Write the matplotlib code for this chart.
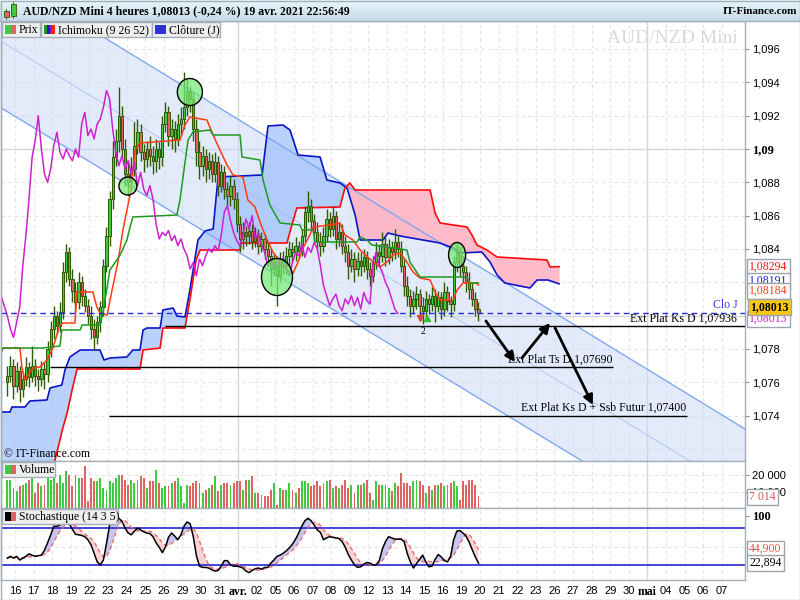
import matplotlib
matplotlib.use('Agg')
import matplotlib.pyplot as plt
from matplotlib.patches import Ellipse, Rectangle
import numpy as np
import pandas as pd

plt.rcParams['font.family'] = 'Liberation Sans'
SERIF = 'Liberation Serif'

# =============================================================================
# DONNÉES — AUD/NZD Mini, bougies 4 heures
# =============================================================================
premiere_ouverture = 1.0760
clotures = [
    1.0764, 1.0770, 1.0758, 1.0767, 1.0756, 1.0762,
    1.0769, 1.0763, 1.0770, 1.0764, 1.0762, 1.0768,
    1.0765, 1.0780, 1.0792, 1.0800, 1.0794, 1.0802,
    1.0826, 1.0838, 1.0822, 1.0815, 1.0808, 1.0820,
    1.0812, 1.0806, 1.0800, 1.0792, 1.0787, 1.0796,
    1.0805, 1.0830, 1.0848, 1.0870, 1.0895, 1.0905,
    1.0920, 1.0900, 1.0885, 1.0880, 1.0888, 1.0902,
    1.0910, 1.0898, 1.0894, 1.0900, 1.0896, 1.0893,
    1.0900, 1.0895, 1.0915, 1.0922, 1.0908, 1.0912,
    1.0906, 1.0915, 1.0918, 1.0925, 1.0935, 1.0930,
    1.0912, 1.0898, 1.0890, 1.0896, 1.0888, 1.0893,
    1.0885, 1.0892, 1.0878, 1.0886, 1.0876, 1.0872,
    1.0878, 1.0870, 1.0855, 1.0846, 1.0850, 1.0848,
    1.0851, 1.0845, 1.0848, 1.0842, 1.0846, 1.0840,
    1.0836, 1.0828, 1.0832, 1.0824, 1.0834, 1.0830,
    1.0836, 1.0840, 1.0838, 1.0842, 1.0839, 1.0848,
    1.0862, 1.0866, 1.0857, 1.0850, 1.0845, 1.0842,
    1.0848, 1.0858, 1.0852, 1.0860, 1.0846, 1.0850,
    1.0842, 1.0838, 1.0830, 1.0834, 1.0828, 1.0833,
    1.0830, 1.0835, 1.0828, 1.0824, 1.0832, 1.0838,
    1.0836, 1.0843, 1.0835, 1.0841, 1.0838, 1.0844,
    1.0840, 1.0830, 1.0818, 1.0812, 1.0806, 1.0810,
    1.0813, 1.0806, 1.0803, 1.0810, 1.0807, 1.0812,
    1.0806, 1.0811, 1.0804, 1.0814, 1.0809, 1.0807,
    1.0832, 1.0838, 1.0830, 1.0826, 1.0820, 1.0816,
    1.0810, 1.0804, 1.08013,
]
plus_hauts = [
    1.0770, 1.0776, 1.0774, 1.0772, 1.0770, 1.0766,
    1.0775, 1.0772, 1.0782, 1.0774, 1.0768, 1.0773,
    1.0772, 1.0785, 1.0797, 1.0806, 1.0803, 1.0808,
    1.0832, 1.0843, 1.0841, 1.0828, 1.0820, 1.0826,
    1.0824, 1.0816, 1.0810, 1.0806, 1.0798, 1.0800,
    1.0809, 1.0834, 1.0853, 1.0875, 1.0905, 1.0912,
    1.0937, 1.0926, 1.0906, 1.0893, 1.0895, 1.0916,
    1.0918, 1.0915, 1.0903, 1.0905, 1.0908, 1.0902,
    1.0906, 1.0904, 1.0920, 1.0928, 1.0926, 1.0918,
    1.0917, 1.0921, 1.0925, 1.0946, 1.0942, 1.0938,
    1.0934, 1.0918, 1.0905, 1.0902, 1.0900, 1.0898,
    1.0897, 1.0898, 1.0896, 1.0891, 1.0890, 1.0880,
    1.0884, 1.0882, 1.0874, 1.0860, 1.0856, 1.0854,
    1.0856, 1.0855, 1.0853, 1.0852, 1.0850, 1.0849,
    1.0845, 1.0840, 1.0837, 1.0836, 1.0838, 1.0839,
    1.0841, 1.0845, 1.0844, 1.0847, 1.0845, 1.0852,
    1.0866, 1.0875, 1.0870, 1.0861, 1.0856, 1.0850,
    1.0853, 1.0864, 1.0862, 1.0866, 1.0863, 1.0856,
    1.0855, 1.0848, 1.0843, 1.0840, 1.0838, 1.0838,
    1.0838, 1.0840, 1.0839, 1.0832, 1.0836, 1.0844,
    1.0843, 1.0850, 1.0848, 1.0846, 1.0845, 1.0852,
    1.0848, 1.0845, 1.0834, 1.0824, 1.0816, 1.0815,
    1.0818, 1.0816, 1.0811, 1.0815, 1.0813, 1.0817,
    1.0816, 1.0815, 1.0814, 1.0820, 1.0818, 1.0812,
    1.0836, 1.0843, 1.0841, 1.0836, 1.0830, 1.0826,
    1.0820, 1.0814, 1.0808,
]
plus_bas = [
    1.0752, 1.0760, 1.0750, 1.0754, 1.0748, 1.0751,
    1.0758, 1.0757, 1.0760, 1.0758, 1.0755, 1.0758,
    1.0756, 1.0760, 1.0775, 1.0786, 1.0789, 1.0790,
    1.0798, 1.0820, 1.0818, 1.0808, 1.0802, 1.0804,
    1.0806, 1.0802, 1.0795, 1.0786, 1.0780, 1.0783,
    1.0790, 1.0800, 1.0826, 1.0842, 1.0864, 1.0890,
    1.0898, 1.0895, 1.0878, 1.0872, 1.0876, 1.0884,
    1.0897, 1.0893, 1.0886, 1.0889, 1.0890, 1.0885,
    1.0886, 1.0888, 1.0890, 1.0910, 1.0902, 1.0900,
    1.0898, 1.0902, 1.0908, 1.0912, 1.0920, 1.0922,
    1.0905, 1.0890, 1.0882, 1.0884, 1.0880, 1.0882,
    1.0880, 1.0880, 1.0872, 1.0874, 1.0870, 1.0866,
    1.0866, 1.0864, 1.0850, 1.0838, 1.0840, 1.0842,
    1.0843, 1.0840, 1.0841, 1.0837, 1.0838, 1.0834,
    1.0830, 1.0818, 1.0824, 1.0806, 1.0820, 1.0825,
    1.0825, 1.0830, 1.0832, 1.0833, 1.0834, 1.0836,
    1.0844, 1.0856, 1.0852, 1.0845, 1.0840, 1.0836,
    1.0838, 1.0844, 1.0847, 1.0848, 1.0840, 1.0842,
    1.0837, 1.0832, 1.0822, 1.0826, 1.0820, 1.0824,
    1.0824, 1.0826, 1.0822, 1.0818, 1.0820, 1.0828,
    1.0830, 1.0832, 1.0830, 1.0831, 1.0833, 1.0834,
    1.0835, 1.0826, 1.0812, 1.0806, 1.0799, 1.0801,
    1.0804, 1.0800, 1.0795, 1.0798, 1.0801, 1.0803,
    1.0796, 1.0802, 1.0798, 1.0800, 1.0803, 1.0799,
    1.0803, 1.0826, 1.0824, 1.0820, 1.0814, 1.0810,
    1.0806, 1.0800, 1.0797,
]
volumes = [
    17200, 17200, 12100, 10100, 13100, 14100, 15200, 17200, 20200, 9100,
    15200, 13100, 14100, 18200, 17200, 19200, 15200, 20200, 15200, 22200,
    20200, 13100, 20200, 18200, 18200, 25300, 4000, 18200, 16200, 16200,
    18200, 12100, 11100, 16200, 15200, 18200, 20200, 20200, 17200, 14100,
    17200, 15200, 17200, 19200, 18200, 12100, 16200, 16200, 23200, 15200,
    12100, 13100, 13100, 15200, 16200, 18200, 13100, 3000, 14100, 13100,
    15200, 16200, 15200, 9100, 11100, 12100, 14100, 19200, 10100, 14100,
    15200, 15200, 14100, 15200, 16200, 16200, 11100, 17200, 17200, 19200,
    9100, 9100, 8100, 7100, 7100, 11100, 15200, 2000, 12100, 11100,
    11100, 15200, 11100, 9100, 12100, 16200, 16200, 15200, 13100, 14100,
    16200, 13100, 15200, 16200, 17200, 12100, 13100, 12100, 14100, 17200,
    12100, 14100, 9100, 14100, 14100, 15200, 17200, 9100, 5100, 16200,
    14100, 14100, 14100, 12100, 10100, 15200, 13100, 21200, 15200, 15200,
    13100, 16200, 17200, 16200, 14100, 9100, 13100, 11100, 14100, 14100,
    15200, 13100, 14100, 15200, 16200, 13100, 5100, 16200, 14100, 17200,
    17200, 14100, 7014,
]
stoch_k = [
    31, 34, 31, 34, 28, 31, 34, 38, 36, 34,
    35, 36, 44, 56, 69, 83, 83, 85, 88, 94,
    87, 78, 70, 69, 68, 66, 61, 53, 39, 25,
    20, 28, 55, 85, 95, 98, 96, 91, 80, 72,
    69, 75, 80, 77, 74, 72, 71, 66, 56, 49,
    40, 49, 65, 72, 67, 61, 69, 83, 90, 87,
    66, 35, 18, 16, 16, 15, 12, 10, 11, 18,
    27, 27, 20, 18, 18, 17, 15, 10, 7.5, 11,
    14, 15, 13, 16, 16, 23, 28, 34, 36, 39,
    43, 48, 54, 62, 72, 83, 92, 96, 92, 85,
    77, 73, 61, 64, 66, 65, 64, 63, 58, 49,
    37, 28, 20, 16, 17, 21, 24, 23, 20, 20,
    27, 46, 58, 66, 64, 62, 62, 62, 58, 39,
    25, 15, 22, 29, 36, 25, 17, 18, 29, 37,
    33, 27, 25, 34, 61, 75, 76, 72, 67, 57,
    44.605, 33, 22.894,
]

# Ichimoku (9 26 52) : points relevés (indice de bougie, prix)
tenkan_x = [-2.35, 4.1, 4.7, 5.7, 7.3, 8.3, 10.5, 12.8, 14.7, 17.0, 18.0, 21.8,
            22.5, 27.6, 28.9, 29.9, 32.2, 33.8, 35.7, 37.3, 38.6, 39.9, 41.2,
            42.8, 55.7, 57.3, 58.9, 64.4, 66.4, 68.6, 70.9, 72.8, 76.0, 77.6,
            79.9, 81.5, 83.8, 85.7, 88.0, 90.2, 92.2, 93.8, 95.4, 97.6, 98.6,
            104.1, 107.3, 108.9, 111.5, 113.8, 118.0, 120.2, 122.5, 124.4,
            126.7, 128.9, 130.9, 133.1, 136.4, 138.0, 139.6, 143.8, 145.1,
            147.0, 151.2, 152.0]
tenkan_y = [1.07806, 1.07806, 1.07692, 1.07614, 1.07662, 1.07686, 1.07692,
            1.07734, 1.07806, 1.07944, 1.07956, 1.07956, 1.08142, 1.08142,
            1.08052, 1.08016, 1.08004, 1.08154, 1.08322, 1.08514, 1.08634,
            1.08754, 1.08994, 1.09036, 1.09054, 1.09144, 1.09192, 1.09174,
            1.09084, 1.08994, 1.08904, 1.08844, 1.08832, 1.08694, 1.08652,
            1.08562, 1.08454, 1.08382, 1.08322, 1.08274, 1.08256, 1.08322,
            1.08406, 1.08484, 1.08532, 1.08544, 1.08556, 1.08484, 1.08454,
            1.08394, 1.08322, 1.08292, 1.08322, 1.08364, 1.08376, 1.08322,
            1.08262, 1.08226, 1.08214, 1.08142, 1.08094, 1.08094, 1.08154,
            1.08196, 1.08196, 1.08184]
kijun_x = [-2.35, -1.4, 11.5, 17.0, 17.6, 23.5, 24.1, 29.9, 30.9, 33.1, 36.4,
           38.6, 39.6, 40.5, 54.7, 55.7, 57.3, 58.3, 59.9, 65.4, 66.4, 75.1,
           75.7, 81.5, 82.5, 84.7, 88.0, 94.4, 95.1, 98.6, 99.3, 112.8, 113.8,
           116.0, 117.6, 122.5, 128.9, 129.9, 133.1, 148.3, 149.2, 152.0]
kijun_y = [1.07752, 1.07806, 1.07806, 1.07818, 1.07914, 1.07914, 1.07944,
           1.07944, 1.08022, 1.08274, 1.08364, 1.08454, 1.08532, 1.08592,
           1.08604, 1.08694, 1.08916, 1.09054, 1.09102, 1.09114, 1.09084,
           1.09084, 1.08952, 1.08934, 1.08814, 1.08664, 1.08556, 1.08544,
           1.08514, 1.08514, 1.08442, 1.08442, 1.08472, 1.08454, 1.08424,
           1.08412, 1.08394, 1.08322, 1.08232, 1.08232, 1.08196, 1.08196]
ssa_x = [-2.4, 12.2, 15.4, 18.0, 19.3, 20.9, 22.5, 42.8, 43.8, 49.3, 50.2,
         57.3, 58.9, 60.9, 62.2, 75.1, 75.4, 90.2, 91.8, 93.4, 107.3, 108.9,
         110.5, 112.2, 136.4, 138.0, 139.6, 148.3, 149.9, 151.5, 154.7,
         158.0, 174.1, 175.1, 178.0]
ssa_y = [1.06954, 1.07002, 1.07134, 1.07332, 1.07416, 1.07554, 1.07680,
         1.07680, 1.07794, 1.07806, 1.07926, 1.07926, 1.08094, 1.08334,
         1.08394, 1.08394, 1.08436, 1.08436, 1.08544, 1.08646, 1.08652,
         1.08766, 1.08796, 1.08754, 1.08754, 1.08616, 1.08556, 1.08532,
         1.08484, 1.08424, 1.08394, 1.08352, 1.08334, 1.08292, 1.08294]
ssb_x = [-2.4, 0.9, 1.5, 5.7, 7.3, 12.8, 13.8, 17.6, 18.6, 20.2, 23.5, 29.9,
         31.2, 33.1, 38.6, 40.5, 42.8, 43.8, 45.1, 49.3, 50.2, 53.5, 54.7,
         57.3, 58.9, 61.5, 63.8, 66.4, 68.0, 82.2, 84.1, 88.9, 91.2, 93.8,
         100.9, 103.1, 107.3, 109.6, 112.2, 113.8, 121.2, 122.8, 126.7,
         139.6, 143.8, 146.0, 153.1, 155.7, 158.0, 160.5, 168.6, 170.9,
         174.4, 178.0]
ssb_y = [1.07422, 1.07422, 1.07452, 1.07452, 1.07488, 1.07494, 1.07566,
         1.07584, 1.07674, 1.07752, 1.07794, 1.07794, 1.07734, 1.07746,
         1.07752, 1.07794, 1.07794, 1.07914, 1.07926, 1.07926, 1.08034,
         1.08046, 1.07998, 1.07992, 1.08154, 1.08454, 1.08508, 1.08520,
         1.08832, 1.08844, 1.09138, 1.09144, 1.09114, 1.08964, 1.08952,
         1.08814, 1.08796, 1.08766, 1.08604, 1.08454, 1.08454, 1.08496,
         1.08478, 1.08436, 1.08406, 1.08376, 1.08382, 1.08322, 1.08244,
         1.08196, 1.08166, 1.08214, 1.08214, 1.08191]
decalage_chikou = 26

# canal baissier (bornes aux extrémités)
canal_x = [-3.0, 238.5]
canal_haut = [1.10058, 1.07314]
canal_bas = [1.09258, 1.06528]

# niveaux horizontaux (prix, début, fin, texte)
niveaux = [
    (1.07936, 50.9, 238.5, 'Ext Plat Ks D 1,07936'),
    (1.07690, 13.8, 195.4, 'Ext Plat Ts D 1,07690'),
    (1.07400, 32.8, 219.3, 'Ext Plat Ks D + Ssb Futur 1,07400'),
]
fleches = [((154.4, 1.07968), (163.8, 1.07722)),
           ((166.0, 1.07746), (175.1, 1.07956)),
           ((176.7, 1.07926), (188.9, 1.07464))]
# cercles (centre x, centre y, largeur, hauteur)
cercles = [(58.9, 1.09342, 8.1, 0.00162), (38.9, 1.08778, 5.8, 0.00108),
           (87.0, 1.08232, 10.0, 0.00222), (145.1, 1.08364, 5.5, 0.00150)]

jours = ['16', '17', '18', '19', '22', '23', '24', '25', '26', '29', '30', '31',
         'avr.', '02', '05', '06', '07', '08', '09', '12', '13', '14', '15',
         '16', '19', '20', '21', '22', '23', '26', '27', '28', '29', '30',
         'mai', '04', '05', '06', '07']
BOUGIES_PAR_JOUR = 6

# =============================================================================
W, H = 800, 600
XLIM = (-2.03, 237.97)
VERT, ROUGE, CONTOUR = '#3FCB3F', '#E06262', '#2E5A00'
GRIS = '#A4AEB8'


def rect(l, t, r, b):
    return [l / W, 1 - b / H, (r - l) / W, (b - t) / H]


def fmt(v, d=5):
    return f'{v:.{d}f}'.replace('.', ',')


x = np.arange(len(clotures))
c = np.array(clotures)
o = np.array([premiere_ouverture] + clotures[:-1])
hausse = c >= o
couleurs = np.where(hausse, VERT, ROUGE)
xt = np.arange(len(jours)) * BOUGIES_PAR_JOUR + 2.5

fig = plt.figure(figsize=(8, 6), dpi=100)
fig.patch.set_facecolor('white')
ax = fig.add_axes(rect(1, 21, 745, 461))
axv = fig.add_axes(rect(1, 461, 745, 508), sharex=ax)
axs = fig.add_axes(rect(1, 508, 745, 580), sharex=ax)

for a in (ax, axv, axs):
    a.set_xlim(*XLIM)
    for s in a.spines.values():
        s.set_color(GRIS)
        s.set_linewidth(1)
    for xi, lab in zip(xt, jours):
        if lab in ('avr.', 'mai'):
            a.axvline(xi, color='#D6D6D6', lw=1, zorder=0)
        else:
            a.axvline(xi, color='#E4E4E4', lw=0.8, ls=(0, (3, 3)), zorder=0)
    a.yaxis.tick_right()
    a.tick_params(axis='y', length=3, width=0.8, color='#8090A0', pad=2,
                  labelsize=8)

# ---- panneau prix ----
ax.set_ylim(1.07128, 1.09768)
for p in np.arange(1.072, 1.0977, 0.002):
    if abs(p * 100 - round(p * 100)) < 1e-6:
        ax.axhline(p, color='#D6D6D6', lw=1, zorder=0)
    else:
        ax.axhline(p, color='#E4E4E4', lw=0.8, ls=(0, (3, 3)), zorder=0)

ax.fill_between(canal_x, canal_bas, canal_haut, color='#C8D8F8', alpha=0.5,
                lw=0, zorder=1)
ax.plot(canal_x, canal_haut, color='#7FA8F0', lw=1, zorder=3)
ax.plot(canal_x, canal_bas, color='#7FA8F0', lw=1, zorder=3)
ax.plot(canal_x, (np.array(canal_haut) + canal_bas) / 2, color='#9DBCF2',
        lw=0.5, zorder=3)

xs = np.union1d(ssa_x, ssb_x)
a_s = np.interp(xs, ssa_x, ssa_y)
b_s = np.interp(xs, ssb_x, ssb_y)
ax.fill_between(xs, a_s, b_s, where=b_s >= a_s, interpolate=True,
                color='#9EC0FA', alpha=0.72, lw=0, zorder=2)
ax.fill_between(xs, a_s, b_s, where=b_s < a_s, interpolate=True,
                color='#FFAFC0', alpha=0.85, lw=0, zorder=2)
ax.plot(ssb_x, ssb_y, color='#0A14C8', lw=1.2, zorder=4)
ax.plot(ssa_x, ssa_y, color='#FF0A0A', lw=1.2, zorder=4)

ax.vlines(x, plus_bas, plus_hauts, color=CONTOUR, lw=1, zorder=5)
ax.bar(x, np.maximum(np.abs(c - o), 0.00004), bottom=np.minimum(o, c),
       width=0.72, color=couleurs, edgecolor=CONTOUR, linewidth=0.7, zorder=6)

ax.plot(tenkan_x, tenkan_y, color='#FF3A10', lw=1.1, zorder=7)
ax.plot(kijun_x, kijun_y, color='#1E9A1E', lw=1.1, zorder=7)
ax.plot(x - decalage_chikou, c, color='#D020D0', lw=1.1, zorder=7)

ax.axhline(c[-1], color='#2A2AE0', lw=1, ls=(0, (4, 3)), zorder=8)
ax.text(235.5, c[-1] + 0.00012, 'Clo J', color='#3A3AE0', family=SERIF,
        fontsize=8.5, ha='right', va='bottom', zorder=9)

for prix, x0, x1, txt in niveaux:
    ax.hlines(prix, x0, x1, color='black', lw=1, zorder=8)
    ax.text(x1 - 0.3 if x1 < 236 else 235.4, prix + 0.00012, txt,
            family=SERIF, fontsize=8.5, ha='right', va='bottom', zorder=9)

for cx, cy, w, h in cercles:
    ax.add_patch(Ellipse((cx, cy), w, h, fc=(0.45, 0.92, 0.45, 0.72),
                         ec='black', lw=1, zorder=9))

for (x0, y0), (x1, y1) in fleches:
    ax.annotate('', xy=(x1, y1), xytext=(x0, y0), zorder=10,
                arrowprops=dict(arrowstyle='-|>', color='black', lw=2,
                                mutation_scale=14, shrinkA=0, shrinkB=0))

ax.plot([133.1], [1.07985], marker='v', color='#E04040', ms=5, zorder=9)
ax.plot([135.4], [1.07985], marker='^', color='#30C030', ms=5, zorder=9)
ax.text(134.2, 1.07935, '2', family=SERIF, fontsize=7, ha='center',
        va='top', zorder=9)
ax.text(-1.0, 1.07170, '© IT-Finance.com', family=SERIF, fontsize=8.5,
        ha='left', va='center', zorder=9)
ax.text(214.5, 1.0966, 'AUD/NZD Mini', family=SERIF, fontsize=14,
        color='#D9D9D9', ha='center', va='center', zorder=1)

ticks = [1.074, 1.076, 1.078, 1.084, 1.086, 1.088, 1.090, 1.092, 1.094, 1.096]
ax.set_yticks(ticks)
ax.set_yticklabels([f'{t:.3f}'.rstrip('0').replace('.', ',') for t in ticks])
for t, lbl in zip(ticks, ax.get_yticklabels()):
    if abs(t - 1.09) < 1e-9:
        lbl.set_fontweight('bold')
        lbl.set_family(SERIF)
        lbl.set_fontsize(9)
ax.tick_params(axis='x', bottom=False, labelbottom=False)

# ---- panneau volume ----
axv.set_ylim(0, 28500)
for v in (10000, 20000):
    axv.axhline(v, color='#E4E4E4', lw=0.8, ls=(0, (3, 3)), zorder=0)
axv.bar(x, volumes, width=0.62, color=couleurs, lw=0, zorder=3)
axv.set_yticks([10000, 20000])
axv.set_yticklabels(['10 000', '20 000'])
axv.tick_params(axis='x', bottom=False, labelbottom=False)

# ---- panneau stochastique ----
k = pd.Series(stoch_k, dtype=float)
d = k.rolling(5, min_periods=1).mean()
axs.set_ylim(-4.5, 112.7)
axs.axhline(50, color='#E4E4E4', lw=0.8, ls=(0, (3, 3)), zorder=0)
axs.fill_between(x, k, d, where=k >= d, interpolate=True, color='#B4B4EA',
                 alpha=0.75, lw=0, zorder=1)
axs.fill_between(x, k, d, where=k < d, interpolate=True, color='#F8C6C6',
                 alpha=0.75, lw=0, zorder=1)
axs.axhline(80, color='#2424D4', lw=1.2, zorder=2)
axs.axhline(20, color='#2424D4', lw=1.2, zorder=2)
axs.plot(x, d, color='#E87070', lw=1, ls=(0, (3, 2)), zorder=3)
axs.plot(x, k, color='black', lw=1.1, zorder=4)
axs.set_yticks([100])
axs.set_yticklabels(['100'])
for lbl in axs.get_yticklabels():
    lbl.set_fontweight('bold')
    lbl.set_family(SERIF)
    lbl.set_fontsize(9)
axs.set_xticks(xt)
axs.set_xticklabels(jours)
axs.tick_params(axis='x', length=0, pad=4, labelsize=8)
for lab, lbl in zip(jours, axs.get_xticklabels()):
    if lab in ('avr.', 'mai'):
        lbl.set_fontweight('bold')
        lbl.set_family(SERIF)
        lbl.set_fontsize(8.5)

# =============================================================================
# habillage (en-tête, légendes, étiquettes de droite) en coordonnées pixels
# =============================================================================
ov = fig.add_axes([0, 0, 1, 1], zorder=20)
ov.axis('off')
grad = np.linspace(0, 1, 30)[:, None]
ov.imshow(grad, extent=(0, 800, 21, 0), aspect='auto',
          cmap=matplotlib.colors.LinearSegmentedColormap.from_list(
              'tete', ['#E8F5FB', '#C6DCE8']))
ov.set_xlim(0, W)
ov.set_ylim(H, 0)
ov.plot([0, 800], [21, 21], color=GRIS, lw=1)
ov.add_patch(Rectangle((0.5, 0.5), 799, 599, fill=False, ec=GRIS, lw=1))
ov.add_patch(Rectangle((4, 11), 4.5, 6, fc=ROUGE, ec=CONTOUR, lw=0.6))
ov.add_patch(Rectangle((11, 4), 4.5, 12, fc=VERT, ec=CONTOUR, lw=0.6))
ov.plot([6.2, 6.2], [9, 19], color=CONTOUR, lw=0.6, zorder=0)
ov.plot([13.2, 13.2], [2, 18], color=CONTOUR, lw=0.6, zorder=0)
titre = (f'AUD/NZD Mini 4 heures {fmt(c[-1])} (-0,24 %) '
         '19 avr. 2021 22:56:49')
ov.text(23, 11, titre, family=SERIF, fontweight='bold', fontsize=8.5,
        va='center', ha='left')
ov.text(797, 11, 'IT-Finance.com', family=SERIF, fontweight='bold',
        fontsize=8, va='center', ha='right')


def boite(x0, x1, y0, y1, icones, texte):
    ov.add_patch(Rectangle((x0, y0), x1 - x0, y1 - y0, fc='#EEEEEE',
                           ec=GRIS, lw=1))
    xi = x0 + 3
    wi = 11 / len(icones)
    for col in icones:
        ov.add_patch(Rectangle((xi, y0 + 3), wi, y1 - y0 - 6, fc=col, lw=0))
        xi += wi
    ov.text(x0 + 17, (y0 + y1) / 2 + 0.5, texte, family=SERIF, fontsize=8.5,
            va='center', ha='left')


boite(2, 40, 22, 37, [VERT, ROUGE], 'Prix')
boite(41, 152, 22, 37, ['#1E9A1E', '#2020D0', '#9020C0', '#FF2010'],
      'Ichimoku (9 26 52)')
boite(152, 220, 22, 37, ['#3030D8'], 'Clôture (J)')
boite(2, 55, 462, 477, [VERT, ROUGE], 'Volume')
boite(2, 118, 509, 524, ['black', ROUGE], 'Stochastique (14 3 5)')


def etiquette(y, texte, couleur, fond='white', gras=False, x0=749):
    ov.text(x0, y, texte, color=couleur, family=SERIF, fontsize=8.5,
            fontweight='bold' if gras else 'normal', va='center', ha='left',
            bbox=dict(boxstyle='square,pad=0.18', fc=fond, ec='#9AA4AE',
                      lw=1))


etiquette(267, fmt(ssa_y[-1]), '#FF1010')
etiquette(281, fmt(ssb_y[-1]), '#2020D0')
etiquette(291, fmt(tenkan_y[-1]), '#FF3A10')
etiquette(319, fmt(c[-1]), '#D020D0')
etiquette(307, fmt(c[-1]), 'black', fond='#F8C810', gras=True, x0=750)
etiquette(497, f'{volumes[-1]:,}'.replace(',', ' '), '#E05050')
etiquette(549, fmt(d.iloc[-1], 3), '#E05050')
etiquette(563, fmt(stoch_k[-1], 3), 'black')

fig.savefig('out.png', dpi=100, facecolor='white')
